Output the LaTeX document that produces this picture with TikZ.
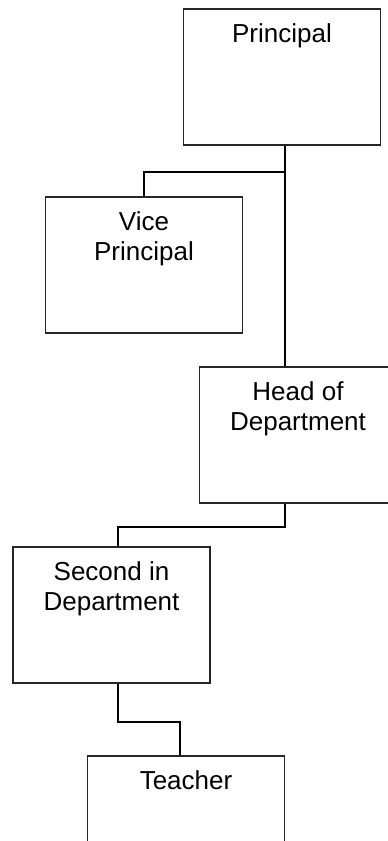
\documentclass[tikz,border=0pt]{standalone}
\usepackage{fontspec}
\setmainfont{Liberation Sans}
\begin{document}
\begin{tikzpicture}[x=1pt, y=-1pt]
        % Styles
        \tikzstyle{post} = [rectangle, draw=black!85, line width=1.3pt, minimum width=197pt, minimum height=136pt, inner sep=0pt]
        \tikzstyle{title} = [anchor=north, align=center, inner sep=0pt, yshift=-15pt, font=\fontsize{26}{30}\selectfont]
        \tikzstyle{link} = [draw=black, line width=1.6pt]

        \clip (0,0) rectangle (388,841);

        % Boites
        \node[post] (principal) at (282,77) {};
        \node[post] (vp) at (144,265) {};
        \node[post] (hod) at (298,435) {};
        \node[post] (second) at (111.5,615) {};
        \node[post] (teacher) at (186,824) {};

        % Titres
        \node[title] (tprincipal) at (principal.north) {Principal};
        \node[title] (tvp) at (vp.north) {Vice\\Principal};
        \node[title] (thod) at (hod.north) {Head of\\Department};
        \node[title] (tsecond) at (second.north) {Second in\\Department};
        \node[title] (tteacher) at (teacher.north) {Teacher};

        % Points de jonction
        \coordinate (j1) at (285,172);
        \coordinate (j2) at (118,527);
        \coordinate (j3) at (118,722);
        \coordinate (j4) at (180,722);

        % Liens
        \draw[link] (principal.south -| j1) -- (hod.north -| j1);
        \draw[link] (j1) -| (vp.north);
        \draw[link] (hod.south -| j1) |- (j2) -- (second.north -| j2);
        \draw[link] (second.south -| j3) -- (j3) -- (j4) -- (teacher.north -| j4);

    \end{tikzpicture}
\end{document}
